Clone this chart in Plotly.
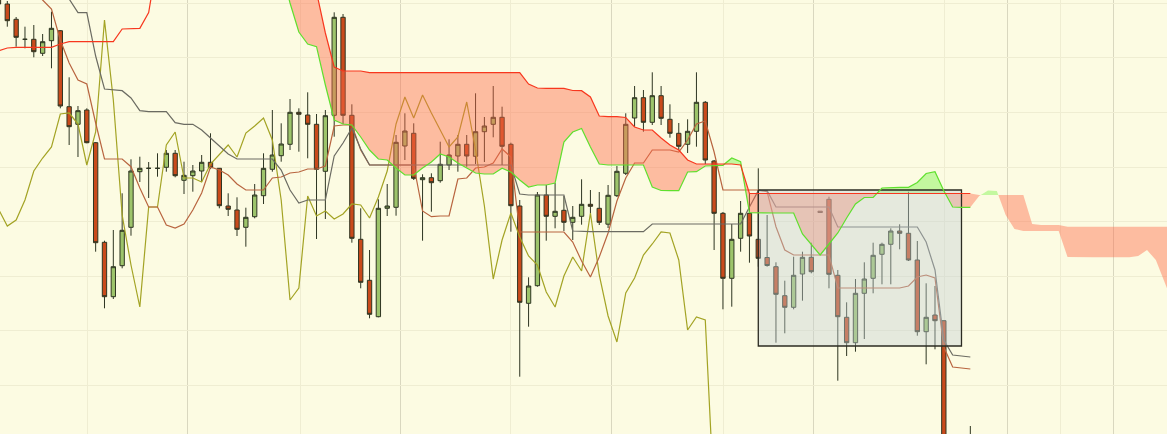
import plotly.graph_objects as go

# ---------------- data (index-based periods, prices in points) ----------------
idx = list(range(0, 111))

opens = [1446, 1430, 1414.7, 1394.7, 1394.7, 1380.7, 1393.3, 1403.3, 1327.3, 1309.7,
         1324, 1291.3, 1191.7, 1137.3, 1168.3, 1206.7, 1262.3, 1265.7, 1265.7, 1266.7,
         1280.7, 1253.7, 1258.3, 1263, 1271.7, 1265.7, 1228, 1224, 1206.7, 1217.3,
         1238.3, 1264.7, 1278.3, 1289.7, 1321.7, 1319, 1309.7, 1262.7, 1318.7, 1416.7,
         1318.7, 1194.7, 1153.7, 1117.3, 1225.7, 1226.7, 1288, 1300.7, 1254.3, 1256.3,
         1253.3, 1269, 1278, 1289.7, 1277.7, 1302.3, 1309.7, 1316.7, 1289.7, 1228,
         1130.7, 1148.3, 1239, 1217.7, 1223.7, 1211.7, 1217.7, 1229.7, 1225.7, 1209.8,
         1238.3, 1260.7, 1316, 1336.3, 1311.7, 1338.3, 1314.7, 1300.7, 1289.7, 1302.7,
         1331.7, 1273, 1220.7, 1155.7, 1195.7, 1220.7, 1194.7, 1176.5, 1167.3, 1138.3,
         1126.7, 1160, 1176.7, 1222.8, 1234.7, 1158.7, 1116.7, 1091.3, 1140.7, 1155.7,
         1179.7, 1189.7, 1203, 1200.7, 1174, 1102.3, 1119, 1113.3, 934, 904, 914]
highs = [1454, 1433, 1417, 1407.3, 1409, 1400, 1422.3, 1404, 1356.7, 1328,
         1325.7, 1292, 1193.3, 1204, 1240.7, 1274.7, 1277.3, 1272, 1280.7, 1284,
         1284, 1272.3, 1269, 1279, 1300.7, 1266, 1240.7, 1236.7, 1226.3, 1250,
         1280.7, 1324, 1310.7, 1335, 1325.7, 1341.7, 1320, 1324, 1421.7, 1420,
         1329.7, 1225.7, 1184, 1234.7, 1250, 1299, 1320.7, 1310.7, 1259.7, 1260.7,
         1292.3, 1294.7, 1299, 1299, 1340.7, 1317, 1348, 1327.3, 1291.3, 1234,
         1156.7, 1242, 1249, 1251, 1238, 1228, 1254.7, 1244, 1242, 1249,
         1268, 1320.7, 1348, 1344, 1361.7, 1348, 1329.7, 1311, 1314.7, 1361.7,
         1333, 1274, 1222, 1210, 1233, 1241, 1265.7, 1219, 1171.7, 1153.3,
         1177.3, 1182.3, 1191.3, 1223, 1237.3, 1164, 1131.7, 1155, 1171.7, 1191.3,
         1191.3, 1205.7, 1209.7, 1242.3, 1193, 1150.7, 1148, 1113.5, 954, 964, 1008]
lows = [1427, 1407.3, 1387.3, 1385.7, 1376.7, 1378, 1365.7, 1325.7, 1289, 1277,
        1290.7, 1182.3, 1125.7, 1135, 1165.7, 1198.3, 1252, 1236, 1257.3, 1262.3,
        1256.7, 1240, 1242.3, 1252.3, 1265, 1225.7, 1218, 1198, 1187.3, 1215.7,
        1230, 1262.3, 1272.3, 1284, 1282.3, 1275.7, 1195, 1215, 1297.3, 1310,
        1191.3, 1145.7, 1115.7, 1116.7, 1218, 1218.3, 1274, 1254, 1193.3, 1222.3,
        1251.3, 1264, 1262.3, 1267.3, 1270, 1272, 1296.7, 1269, 1202.3, 1057.3,
        1107.3, 1147.3, 1193.3, 1205.7, 1203, 1194, 1209.3, 1221, 1209, 1206,
        1237, 1259, 1307.3, 1302.3, 1309, 1309, 1296.3, 1284, 1281, 1287.3,
        1270, 1184, 1124.7, 1127.3, 1182.3, 1171.3, 1167.3, 1167.3, 1091.3, 1100.7,
        1124.7, 1133.3, 1160.7, 1221.5, 1145.7, 1053.3, 1078, 1082.3, 1095, 1140.7,
        1149.7, 1149.7, 1184.7, 1173, 1098.3, 1069.7, 1084.7, 914, 889, 889, 899]
closes = [1430, 1413.3, 1396.7, 1394.7, 1382.3, 1392.3, 1405.7, 1328, 1307.3, 1323.3,
          1291.3, 1191.3, 1137.3, 1167.3, 1203.7, 1263, 1265.7, 1265.7, 1265.7, 1280.7,
          1258.3, 1258.7, 1263, 1271.7, 1266.3, 1228.3, 1224.7, 1204.7, 1216.7, 1239,
          1265.7, 1279, 1290, 1321.7, 1319.7, 1309.7, 1264.7, 1318.3, 1416.7, 1318.7,
          1195.7, 1151.7, 1119.7, 1225.7, 1228, 1291.7, 1303, 1255.7, 1256.3, 1251.3,
          1269.7, 1279, 1289.7, 1278, 1302.3, 1308, 1316.7, 1287.7, 1228.3, 1131.7,
          1148, 1239, 1217.7, 1222.7, 1211.7, 1216.7, 1229.7, 1227.7, 1211.7, 1238.7,
          1262.7, 1309.7, 1336.3, 1311.7, 1338.3, 1315.7, 1300.7, 1287.7, 1302.7, 1331.7,
          1274, 1220.7, 1155.7, 1194.7, 1220.7, 1198, 1175.7, 1168.5, 1139.7, 1126.7,
          1158.7, 1176.7, 1162.3, 1221.5, 1159.7, 1117.3, 1091.3, 1140.7, 1155, 1178.7,
          1189.7, 1203, 1200.7, 1174, 1102.3, 1116.7, 1113.3, 934, 904, 954, 984]

# Tenkan-sen (conversion line), periods 0..110
tenkan = [1474, 1469, 1464, 1454, 1442, 1434, 1425, 1394, 1371, 1354,
          1350, 1311, 1275, 1275, 1275, 1267.3, 1246, 1227, 1227, 1209,
          1206, 1210, 1224, 1241, 1267, 1264, 1259, 1250, 1244, 1244,
          1244, 1256, 1257, 1261, 1262, 1265, 1265, 1268, 1308, 1309,
          1309, 1284, 1269, 1269, 1269, 1269, 1269, 1269, 1223, 1217.3,
          1218, 1218, 1255, 1256, 1266, 1267, 1271, 1285, 1277, 1202,
          1202, 1202, 1202, 1202, 1202, 1192, 1173, 1157, 1177, 1201,
          1233, 1256, 1271, 1271, 1284, 1284, 1284, 1282, 1294, 1310,
          1313, 1282, 1244, 1244, 1244, 1244, 1244, 1242.3, 1207.3, 1184,
          1179, 1179, 1179, 1179, 1179, 1146, 1146, 1146, 1146, 1146,
          1146, 1146, 1146, 1148, 1157, 1159, 1156, 1087, 1067, 1066, 1065]

# Kijun-sen (base line), periods 0..110
kijun = [1460, 1460, 1460, 1460, 1460, 1460, 1460, 1460, 1435, 1421.3,
         1421.3, 1378, 1345, 1344, 1343.3, 1336, 1323.3, 1322.3, 1322.3, 1322.3,
         1311.3, 1309.7, 1309.7, 1304, 1296, 1288, 1280, 1275, 1275, 1275,
         1275, 1275, 1264, 1244, 1231, 1234, 1234, 1234, 1278, 1291,
         1306, 1285, 1269, 1269, 1269, 1269, 1269, 1269, 1269, 1269,
         1269, 1269, 1269, 1269, 1269, 1269, 1269, 1269, 1269, 1240,
         1239, 1239, 1239, 1239, 1239, 1203, 1202.3, 1202.3, 1202.3, 1202.3,
         1202.3, 1202.3, 1202.3, 1202.3, 1210, 1210, 1210, 1210, 1210, 1210,
         1210, 1210, 1210, 1210, 1210, 1227, 1243.3, 1243.3, 1227, 1227,
         1227, 1227, 1227, 1227, 1227, 1207, 1207, 1207, 1207, 1207,
         1207, 1207, 1207, 1207, 1207, 1192, 1164, 1094, 1079, 1078, 1077]

# Chikou span (lagging line), periods 0..84
chikou = [1225, 1208, 1214, 1234, 1263, 1276, 1287, 1320, 1321, 1310,
          1269, 1302, 1414, 1334, 1219, 1169, 1127, 1227, 1227, 1289,
          1302, 1256, 1256, 1252, 1270, 1280, 1289, 1277, 1301, 1308,
          1316, 1294, 1234, 1134, 1146, 1238, 1218, 1223, 1215, 1220,
          1230, 1229, 1216, 1237, 1263, 1310, 1337, 1316, 1339, 1321,
          1304, 1287, 1297, 1332, 1284, 1228, 1155, 1194, 1221, 1197,
          1178, 1169, 1142, 1127, 1158, 1177, 1163, 1221, 1159, 1118,
          1092, 1141, 1156, 1179, 1190, 1202, 1201, 1174, 1104, 1117,
          1114, 934, 904, 954, 984]

# Senkou span A, periods 18..133
span_a_start = 18
span_a = [1464, 1464, 1464, 1464, 1464, 1464, 1464, 1464, 1464, 1464,
          1464, 1464, 1464, 1464, 1464, 1431, 1402, 1390, 1387.3, 1349,
          1314, 1310, 1309, 1297, 1284, 1275, 1274, 1266, 1259, 1259,
          1266, 1272, 1280, 1277, 1271, 1266, 1261, 1260, 1260, 1265.7,
          1262, 1254, 1247, 1249, 1249, 1251, 1292, 1302, 1305.5, 1287,
          1270, 1269, 1269, 1269, 1269, 1269, 1247, 1243.5, 1243.3, 1243.3,
          1262, 1262.3, 1268, 1268.5, 1268.7, 1276, 1272.3, 1221.3, 1221, 1221,
          1221, 1221, 1221, 1200, 1189, 1179, 1190, 1201, 1216, 1230,
          1236.5, 1236.7, 1246, 1246.7, 1246.7, 1246.7, 1251.5, 1260.5, 1262.3, 1243.3,
          1227, 1226.7, 1226.7, 1238, 1243.5, 1243, 1219, 1205, 1203, 1203,
          1203, 1203, 1203, 1177, 1176.7, 1176.7, 1176.7, 1176.7, 1176.7, 1176.7,
          1176.7, 1178, 1184, 1174, 1151, 1129]

# Senkou span B, periods 0..133
span_b = [1383, 1386, 1386.7, 1386.7, 1386.7, 1386.7, 1386.7, 1390, 1392.3, 1392.3,
          1392.3, 1392.3, 1392.3, 1392.3, 1405, 1405.7, 1405.7, 1421.5, 1474, 1494,
          1494, 1494, 1494, 1494, 1494, 1494, 1494, 1494, 1494, 1494,
          1494, 1494, 1494, 1494, 1494, 1494, 1442, 1401, 1367, 1363,
          1363, 1363, 1361.3, 1361.3, 1361.3, 1361.3, 1361.3, 1361.3, 1361.3, 1361.3,
          1361.3, 1361.3, 1361.3, 1361.3, 1361.3, 1361.3, 1361.3, 1361.3, 1361.3, 1361.3,
          1350, 1346, 1345.7, 1345.7, 1345.7, 1343.5, 1343.3, 1337, 1318, 1317.3,
          1317.3, 1316.5, 1307, 1304, 1304, 1296, 1289, 1284, 1274, 1270,
          1270, 1270, 1270, 1270, 1269, 1240.5, 1240.5, 1240.5, 1240.5, 1240.5,
          1240.5, 1240.5, 1240.5, 1240.5, 1240.5, 1240.5, 1240.5, 1240.5, 1240.5, 1240.5,
          1240.5, 1240.5, 1240.5, 1240.5, 1240.5, 1240.5, 1240.5, 1240.5, 1240.5, 1240.5,
          1240.5, 1239, 1239, 1239, 1239, 1239, 1239, 1210, 1209, 1209,
          1209, 1207.3, 1207.3, 1207.3, 1207.3, 1207.3, 1207.3, 1207.3, 1207.3, 1207.3,
          1207.3, 1207.3, 1207.3, 1207.3]

last_line_period = 110

# highlighted range box
box_start, box_end = 86, 109
box_high, box_low = 1244, 1088

# vertical grid positions (period units)
grid_major_x = [21.45, 45.45, 69.33, 92.3, 114.26, 126.26]
grid_minor_x = [10.13, 34.13, 58.01, 82.01, 107.02, 120.26]

# ---------------- styles ----------------
BG = "#FCFBE2"
GRID = "#EFEDD2"
GRID_DARK = "#D9D7BF"
UP_FILL = "#9DC46B"
DOWN_FILL = "#C94A1B"
CANDLE_LINE = "#2E3522"
TENKAN_C = "#B8643F"
KIJUN_C = "#6B6B62"
CHIKOU_C = "#A3A324"
SPAN_A_C = "#5FE02E"
SPAN_B_C = "#F7371E"
CLOUD_BEAR = "rgba(255,105,75,0.43)"
CLOUD_BULL = "rgba(110,245,60,0.40)"
BOX_FILL = "rgba(195,208,215,0.40)"
BOX_LINE = "#2B2B22"

fig = go.Figure()

fig.add_trace(go.Candlestick(
    x=idx, open=opens, high=highs, low=lows, close=closes,
    increasing=dict(fillcolor=UP_FILL, line=dict(color=CANDLE_LINE, width=1)),
    decreasing=dict(fillcolor=DOWN_FILL, line=dict(color=CANDLE_LINE, width=1)),
    whiskerwidth=0, hoverinfo="skip", showlegend=False))

fig.add_trace(go.Scatter(x=list(range(len(chikou))), y=chikou, mode="lines",
                         line=dict(color=CHIKOU_C, width=1.2), hoverinfo="skip"))
fig.add_trace(go.Scatter(x=idx, y=tenkan, mode="lines",
                         line=dict(color=TENKAN_C, width=1.2), hoverinfo="skip"))
fig.add_trace(go.Scatter(x=idx, y=kijun, mode="lines",
                         line=dict(color=KIJUN_C, width=1.2), hoverinfo="skip"))

# cloud between span A and span B
xa = list(range(span_a_start, span_a_start + len(span_a)))
bb = span_b[span_a_start:span_a_start + len(span_a)]


def cloud_pieces(xs, a, b):
    pieces = []
    up = a[0] >= b[0]
    cx, ca, cb = [xs[0]], [a[0]], [b[0]]
    for i in range(1, len(xs)):
        s = a[i] >= b[i]
        if s != up:
            d0 = a[i - 1] - b[i - 1]
            d1 = a[i] - b[i]
            t = d0 / (d0 - d1)
            xc = xs[i - 1] + t * (xs[i] - xs[i - 1])
            yc = a[i - 1] + t * (a[i] - a[i - 1])
            cx.append(xc); ca.append(yc); cb.append(yc)
            pieces.append((up, cx, ca, cb))
            cx, ca, cb = [xc], [yc], [yc]
            up = s
        cx.append(xs[i]); ca.append(a[i]); cb.append(b[i])
    pieces.append((up, cx, ca, cb))
    return pieces


for up, cx, ca, cb in cloud_pieces(xa, span_a, bb):
    fig.add_trace(go.Scatter(x=cx + cx[::-1], y=ca + cb[::-1], mode="lines",
                             fill="toself", fillcolor=CLOUD_BULL if up else CLOUD_BEAR,
                             line=dict(width=0), hoverinfo="skip"))

# highlighted range box
fig.add_trace(go.Scatter(x=[box_start, box_end, box_end, box_start, box_start],
                         y=[box_high, box_high, box_low, box_low, box_high],
                         mode="lines", fill="toself", fillcolor=BOX_FILL,
                         line=dict(color=BOX_LINE, width=1.3), hoverinfo="skip"))

na = last_line_period - span_a_start + 1
fig.add_trace(go.Scatter(x=xa[:na], y=span_a[:na], mode="lines",
                         line=dict(color=SPAN_A_C, width=1.2), hoverinfo="skip"))
fig.add_trace(go.Scatter(x=idx, y=span_b[:last_line_period + 1], mode="lines",
                         line=dict(color=SPAN_B_C, width=1.2), hoverinfo="skip"))

fig.update_layout(
    width=1167, height=434, margin=dict(l=0, r=0, t=0, b=0),
    paper_bgcolor=BG, plot_bgcolor=BG, showlegend=False,
    xaxis=dict(range=[0.1737, 132.26], showticklabels=False, zeroline=False,
               rangeslider=dict(visible=False), tickmode="array", tickvals=grid_major_x,
               showgrid=True, gridcolor=GRID_DARK, gridwidth=1, ticks="",
               minor=dict(tickmode="array", tickvals=grid_minor_x, showgrid=True,
                          gridcolor=GRID, gridwidth=1, ticks="")),
    yaxis=dict(range=[1000, 1434], showticklabels=False, zeroline=False,
               tick0=1048.75, dtick=54.55, showgrid=True, gridcolor=GRID, gridwidth=1),
)

fig.write_html("out.html", config={"displayModeBar": False},
               post_script="document.body.style.margin='0';document.body.style.overflow='hidden';")
